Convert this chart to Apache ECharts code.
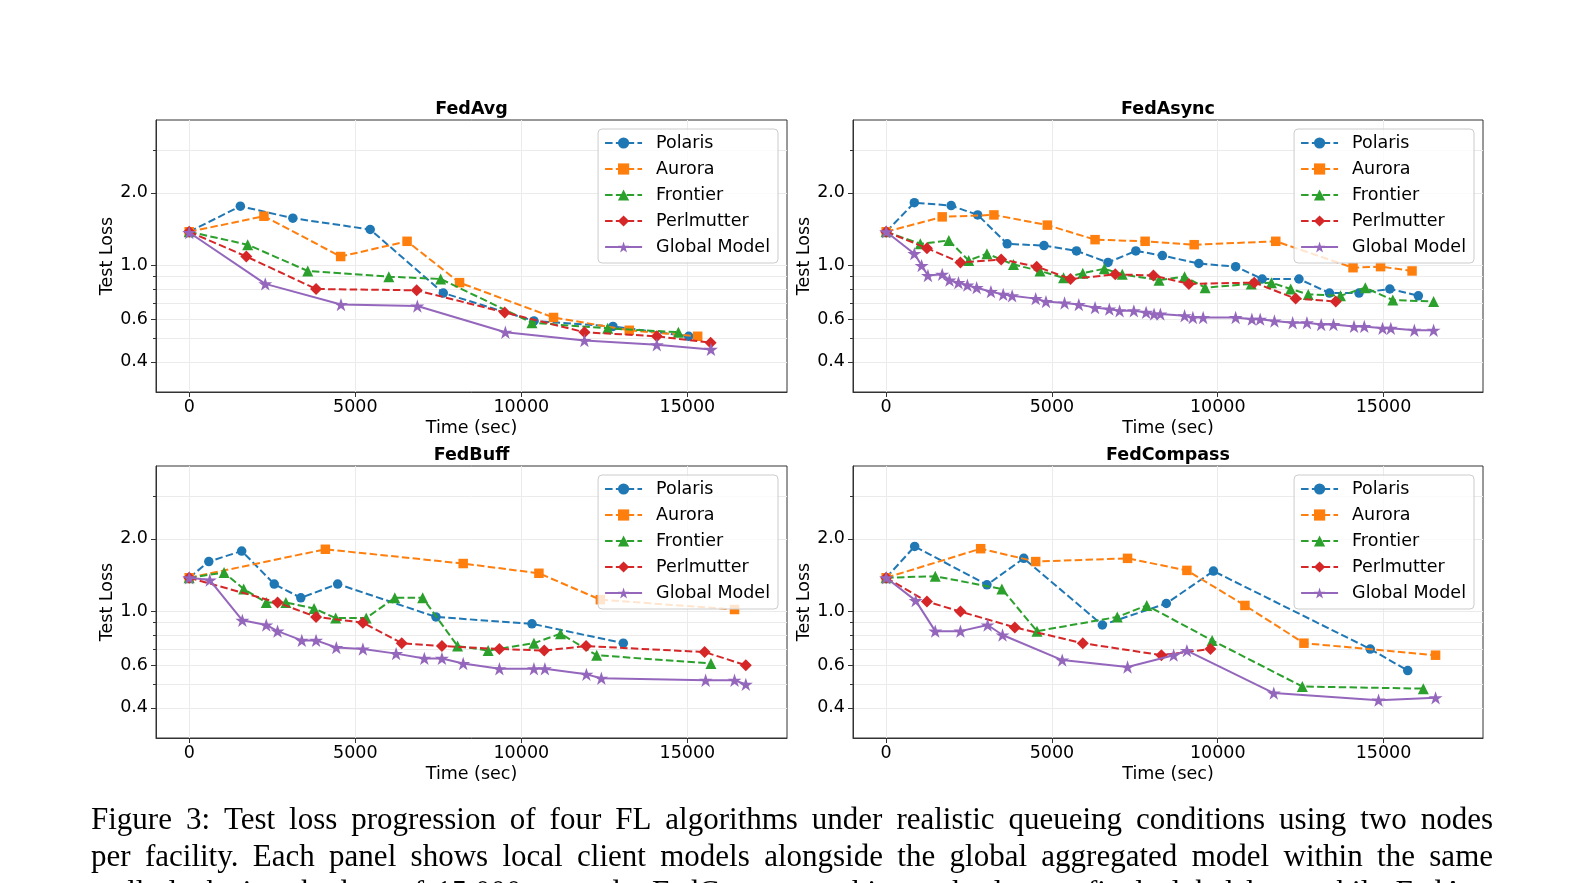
<!DOCTYPE html>
<html>
<head>
<meta charset="utf-8">
<title>Test loss progression</title>
<script src="https://cdn.jsdelivr.net/npm/echarts@6/dist/echarts.min.js"></script>
<style>
html, body { margin: 0; padding: 0; background: #fff; }
#chart { width: 1584px; height: 883px; }
</style>
</head>
<body>
<div id="chart"></div>
<script>
var timeTicks = [0, 5000, 10000, 15000];
var lossTicks = [0.4, 0.6, 1.0, 2.0];
var lossMinorTicks = [0.5, 0.7, 0.8, 0.9, 3.0];
var clients = ["Polaris", "Aurora", "Frontier", "Perlmutter", "Global Model"];
var panels = ["FedAvg", "FedAsync", "FedBuff", "FedCompass"];

// [time (sec), test loss]
var avgPolaris = [[0,1.38],[1540,1.76],[3120,1.57],[5450,1.41],[7650,0.77],[10380,0.59],[12760,0.56],[15040,0.51]];
var avgAurora = [[0,1.38],[2250,1.60],[4560,1.09],[6560,1.26],[8140,0.85],[10970,0.61],[13250,0.54],[15310,0.51]];
var avgFrontier = [[0,1.38],[1760,1.22],[3570,0.95],[6010,0.90],[7570,0.88],[10320,0.58],[12600,0.55],[14730,0.53]];
var avgPerlmutter = [[0,1.38],[1720,1.09],[3820,0.80],[6850,0.79],[9500,0.64],[11900,0.53],[14080,0.51],[15700,0.48]];
var avgGlobal = [[0,1.37],[2290,0.84],[4570,0.69],[6870,0.68],[9520,0.53],[11900,0.49],[14080,0.47],[15710,0.45]];

var asyncPolaris = [[0,1.38],[850,1.82],[1960,1.77],[2760,1.62],[3650,1.23],[4760,1.21],[5740,1.15],[6690,1.03],[7530,1.15],[8330,1.10],[9430,1.02],[10540,0.99],[11340,0.88],[12450,0.88],[13370,0.77],[14260,0.77],[15190,0.80],[16050,0.75]];
var asyncAurora = [[0,1.38],[1690,1.59],[3250,1.62],[4860,1.47],[6300,1.28],[7810,1.26],[9290,1.22],[11750,1.26],[14080,0.98],[14910,0.99],[15860,0.95]];
var asyncFrontier = [[0,1.38],[1030,1.23],[1890,1.27],[2490,1.05],[3040,1.12],[3840,1.01],[4640,0.95],[5350,0.89],[5930,0.93],[6580,0.97],[7120,0.92],[8230,0.87],[9000,0.90],[9620,0.81],[11010,0.84],[11620,0.85],[12200,0.80],[12730,0.76],[13700,0.75],[14450,0.81],[15280,0.72],[16510,0.71]];
var asyncPerlmutter = [[0,1.38],[1230,1.18],[2240,1.03],[3470,1.06],[4540,0.99],[5560,0.88],[6910,0.92],[8060,0.91],[9130,0.84],[11100,0.85],[12350,0.73],[13560,0.71]];
var asyncGlobal = [[0,1.38],[850,1.12],[1070,1.00],[1260,0.91],[1690,0.92],[1910,0.87],[2180,0.85],[2450,0.83],[2730,0.81],[3160,0.78],[3530,0.76],[3800,0.75],[4510,0.73],[4820,0.71],[5380,0.70],[5810,0.69],[6300,0.67],[6730,0.66],[7040,0.65],[7470,0.65],[7840,0.64],[8080,0.63],[8270,0.63],[9000,0.62],[9250,0.61],[9560,0.61],[10540,0.61],[11030,0.60],[11280,0.60],[11710,0.59],[12260,0.58],[12690,0.58],[13120,0.57],[13490,0.57],[14110,0.56],[14420,0.56],[14970,0.55],[15220,0.55],[15930,0.54],[16510,0.54]];

var buffPolaris = [[0,1.38],[590,1.61],[1580,1.78],[2560,1.30],[3360,1.14],[4470,1.30],[7430,0.95],[10320,0.89],[13070,0.74]];
var buffAurora = [[0,1.38],[4100,1.81],[8250,1.58],[10530,1.44],[12380,1.12],[16420,1.02]];
var buffFrontier = [[0,1.38],[1050,1.45],[1640,1.24],[2320,1.09],[2910,1.09],[3760,1.03],[4410,0.94],[5330,0.94],[6190,1.14],[7030,1.14],[8080,0.72],[9000,0.69],[10380,0.74],[11180,0.81],[12270,0.66],[15710,0.61]];
var buffPerlmutter = [[0,1.38],[2660,1.09],[3820,0.95],[5230,0.90],[6400,0.74],[7610,0.72],[9340,0.70],[10690,0.69],[11950,0.72],[15520,0.68],[16760,0.60]];
var buffGlobal = [[0,1.38],[620,1.35],[1600,0.92],[2320,0.88],[2660,0.83],[3390,0.76],[3820,0.76],[4430,0.71],[5230,0.70],[6230,0.67],[7080,0.64],[7610,0.64],[8250,0.61],[9340,0.58],[10380,0.58],[10710,0.58],[11960,0.55],[12410,0.53],[15550,0.52],[16420,0.52],[16760,0.50]];

var compassPolaris = [[0,1.38],[860,1.86],[3040,1.29],[4150,1.66],[6520,0.88],[8450,1.08],[9870,1.47],[14600,0.70],[15730,0.57]];
var compassAurora = [[0,1.38],[2850,1.82],[4510,1.61],[7280,1.66],[9070,1.48],[10820,1.06],[12600,0.74],[16570,0.66]];
var compassFrontier = [[0,1.38],[1480,1.40],[3490,1.24],[4550,0.83],[6970,0.95],[7860,1.06],[9830,0.76],[12550,0.49],[16200,0.48]];
var compassPerlmutter = [[0,1.38],[1230,1.10],[2240,1.00],[3880,0.86],[5930,0.74],[8300,0.66],[9780,0.70]];
var compassGlobal = [[0,1.38],[890,1.11],[1480,0.83],[2240,0.83],[3060,0.88],[3510,0.80],[5310,0.63],[7280,0.59],[8670,0.66],[9070,0.69],[11690,0.46],[14850,0.43],[16570,0.44]];

var captionLines = [
  "Figure 3: Test loss progression of four FL algorithms under realistic queueing conditions using two nodes",
  "per facility. Each panel shows local client models alongside the global aggregated model within the same",
  "wall-clock time budget of 15,000 seconds. FedCompass achieves the lowest final global loss, while FedAvg"
];

var panelData = [
  [avgPolaris, avgAurora, avgFrontier, avgPerlmutter, avgGlobal],
  [asyncPolaris, asyncAurora, asyncFrontier, asyncPerlmutter, asyncGlobal],
  [buffPolaris, buffAurora, buffFrontier, buffPerlmutter, buffGlobal],
  [compassPolaris, compassAurora, compassFrontier, compassPerlmutter, compassGlobal]
];

var colors = ["#1f77b4", "#ff7f0e", "#2ca02c", "#d62728", "#9467bd"];
var starPath = "path://M50,0L61.2,34.5L97.6,34.5L68.2,55.9L79.4,90.5L50,69.1L20.6,90.5L31.8,55.9L2.4,34.5L38.8,34.5Z";
var symbols = ["circle", "rect", "triangle", "diamond", starPath];
var symbolSizes = [9.5, 9.5, 11, 12, 14];
var font = "DejaVu Sans";
var fs = 17.5;
// left, top, width of each plot area
var boxes = [[156, 120, 631], [853, 120, 630], [156, 466, 631], [853, 466, 630]];
var boxHeight = 272;

var chart = echarts.init(document.getElementById("chart"));
var option = {
  animation: false,
  backgroundColor: "#fff",
  grid: [], xAxis: [], yAxis: [], legend: [], series: [], graphic: []
};

boxes.forEach(function (b, p) {
  option.grid.push({
    left: b[0], top: b[1], width: b[2], height: boxHeight,
    show: true, borderColor: "#333", borderWidth: 1, backgroundColor: "transparent"
  });
  option.xAxis.push({
    type: "value", gridIndex: p, min: -1000, max: 18000,
    name: "Time (sec)", nameLocation: "middle", nameGap: 27,
    nameTextStyle: { fontFamily: font, fontSize: fs, color: "#000" },
    axisLine: { show: true, onZero: false, lineStyle: { color: "#333" } },
    axisTick: { show: true, customValues: timeTicks, length: 5, lineStyle: { color: "#333" } },
    axisLabel: {
      customValues: timeTicks, margin: 6, fontFamily: font, fontSize: fs, color: "#000",
      formatter: function (v) { return String(v); }
    },
    splitLine: { show: true, lineStyle: { color: "#ebebeb" } }
  });
  option.yAxis.push({
    type: "log", logBase: 10, gridIndex: p, min: 0.3, max: 4, position: "left",
    name: "Test Loss", nameLocation: "middle", nameRotate: 90, nameGap: 40,
    nameTextStyle: { fontFamily: font, fontSize: fs, color: "#000" },
    axisLine: { show: true, onZero: false, lineStyle: { color: "#333" } },
    axisTick: { show: true, customValues: lossTicks, length: 5, lineStyle: { color: "#333" } },
    axisLabel: {
      customValues: lossTicks, margin: 8, fontFamily: font, fontSize: fs, color: "#000",
      formatter: function (v) { return Number(v).toFixed(1); }
    },
    splitLine: { show: true, lineStyle: { color: "#ebebeb" } }
  });
  option.legend.push({
    orient: "vertical",
    right: 1584 - (b[0] + b[2]) + 9,
    top: b[1] + 9,
    data: clients,
    itemWidth: 37, itemHeight: 14, itemGap: 8,
    padding: [5, 8, 7, 6],
    backgroundColor: "rgba(255,255,255,0.8)",
    borderColor: "#cccccc", borderWidth: 1, borderRadius: 4,
    selectedMode: false,
    textStyle: { fontFamily: font, fontSize: fs, color: "#000", padding: [0, 0, 0, 9] }
  });
  option.graphic.push({
    type: "text", x: b[0] + b[2] / 2, y: b[1] - 11,
    style: {
      text: panels[p], font: "bold " + fs + "px \"" + font + "\"", fill: "#000",
      textAlign: "center", align: "center", textVerticalAlign: "middle", verticalAlign: "middle"
    }
  });
  panelData[p].forEach(function (d, k) {
    option.series.push({
      type: "line", name: clients[k], xAxisIndex: p, yAxisIndex: p, data: d,
      symbol: symbols[k], symbolSize: symbolSizes[k], symbolKeepAspect: true,
      lineStyle: { color: colors[k], width: 2, type: k === 4 ? "solid" : [7.5, 3.3] },
      itemStyle: { color: colors[k] },
      z: 2 + k
    });
  });
});

// minor ticks / minor grid lines on a second log axis
boxes.forEach(function (b, p) {
  option.yAxis.push({
    type: "log", logBase: 10, gridIndex: p, min: 0.3, max: 4, position: "left",
    axisLine: { show: false, onZero: false },
    axisTick: { show: true, customValues: lossMinorTicks, length: 3, lineStyle: { color: "#333" } },
    axisLabel: { show: false },
    splitLine: { show: true, lineStyle: { color: "#ebebeb" } }
  });
});

// caption, justified like the paper text
var capLeft = 91, capRight = 1493, capSize = 31;
var capFont = capSize + "px \"Liberation Serif\"";
var ctx = document.createElement("canvas").getContext("2d");
ctx.font = capFont;
captionLines.forEach(function (line, i) {
  var words = line.split(" ");
  var widths = words.map(function (w) { return ctx.measureText(w).width; });
  var total = widths.reduce(function (a, c) { return a + c; }, 0);
  var gap = (capRight - capLeft - total) / (words.length - 1);
  var x = capLeft;
  words.forEach(function (w, j) {
    option.graphic.push({
      type: "text", x: x, y: 821 + i * 36.5,
      style: {
        text: w, font: capFont, fill: "#000",
        textAlign: "left", align: "left", textVerticalAlign: "middle", verticalAlign: "middle"
      }
    });
    x += widths[j] + gap;
  });
});

chart.setOption(option);
</script>
</body>
</html>
